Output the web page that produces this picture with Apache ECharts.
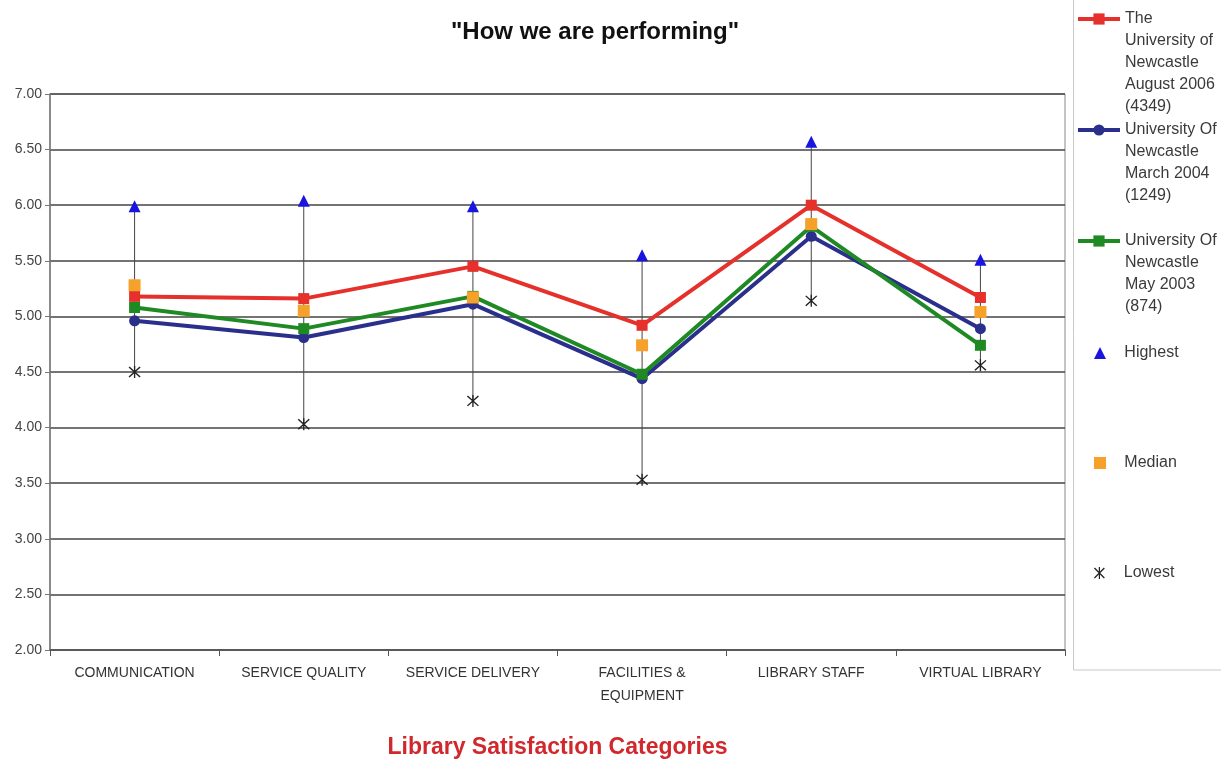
<!DOCTYPE html>
<html>
<head>
<meta charset="utf-8">
<script src="https://cdn.jsdelivr.net/npm/echarts@6/dist/echarts.min.js"></script>
<style>
  html, body { margin: 0; padding: 0; background: #fff; }
  #main { width: 1221px; height: 763px; }
</style>
</head>
<body>
<div id="main"></div>
<script>
// categories and values
var categories = ['COMMUNICATION', 'SERVICE QUALITY', 'SERVICE DELIVERY', 'FACILITIES &\nEQUIPMENT', 'LIBRARY STAFF', 'VIRTUAL LIBRARY'];
var aug2006 = [5.18, 5.16, 5.45, 4.92, 6.00, 5.17];
var mar2004 = [4.96, 4.81, 5.11, 4.44, 5.72, 4.89];
var may2003 = [5.08, 4.89, 5.18, 4.48, 5.81, 4.74];
var highest = [5.99, 6.04, 5.99, 5.55, 6.57, 5.51];
var median = [5.28, 5.05, 5.17, 4.74, 5.83, 5.04];
var lowest = [4.50, 4.03, 4.24, 3.53, 5.14, 4.56];

var names = {
  red: 'The\nUniversity of\nNewcastle\nAugust 2006\n(4349)',
  blue: 'University Of\nNewcastle\nMarch 2004\n(1249)',
  green: 'University Of\nNewcastle\nMay 2003\n(874)'
};

var font = '"Liberation Sans", Arial, sans-serif';
var starPath = 'path://M9,0 L11,0 L11,20 L9,20 Z M1,2.5 L2.5,1 L19,17.5 L17.5,19 Z M17.5,1 L19,2.5 L2.5,19 L1,17.5 Z';

var chart = echarts.init(document.getElementById('main'));

// one legend per item so each icon lines up with the first text line
var LH = 22;
function legendFor(name, iconY, isLine) {
  var n = name.split('\n').length;
  return {
    data: [name],
    left: isLine ? 1076 : 1094,
    top: iconY - (n - 0.5) * LH,
    padding: 0,
    itemWidth: isLine ? 42 : 12,
    itemHeight: isLine ? 14 : 12,
    itemGap: 0,
    lineStyle: { width: 4 },
    formatter: function (nm) {
      // blank lines in front push the first real line onto the icon
      return (isLine ? '' : '   ') + new Array(n).join('\n') + nm;
    },
    textStyle: {
      fontFamily: font,
      fontSize: 16,
      color: '#3a3a3a',
      lineHeight: LH
    }
  };
}

var option = {
  backgroundColor: '#fff',
  animation: false,
  title: {
    text: '"How we are performing"',
    left: 590,
    textAlign: 'center',
    top: 15,
    textStyle: { fontFamily: font, fontSize: 24, fontWeight: 'bold', color: '#111' }
  },
  graphic: [{
    type: 'rect',
    shape: { x: 1073.5, y: -2, width: 160, height: 672 },
    style: { fill: 'none', stroke: '#c8c8c8', lineWidth: 1 },
    silent: true
  }],
  legend: [
    legendFor(names.red, 19, true),
    legendFor(names.blue, 130, true),
    legendFor(names.green, 241, true),
    legendFor('Highest', 353, false),
    legendFor('Median', 463, false),
    legendFor('Lowest', 573, false)
  ],
  grid: {
    left: 50, right: 156, top: 94, bottom: 113,
    outerBoundsMode: 'none',
    show: true,
    borderColor: '#888',
    borderWidth: 1
  },
  xAxis: {
    type: 'category',
    data: categories,
    boundaryGap: true,
    name: 'Library Satisfaction Categories',
    nameLocation: 'middle',
    nameGap: 86,
    nameTextStyle: { fontFamily: font, fontSize: 23, fontWeight: 'bold', color: '#d0282c' },
    axisLine: { lineStyle: { color: '#555', width: 1.5 } },
    axisTick: { show: true, length: 6, lineStyle: { color: '#555' } },
    axisLabel: {
      fontFamily: font, fontSize: 14, color: '#333', margin: 12, lineHeight: 23,
      interval: 0
    }
  },
  yAxis: {
    type: 'value',
    min: 2,
    max: 7,
    interval: 0.5,
    axisLine: { show: true, lineStyle: { color: '#777', width: 1.5 } },
    axisTick: { show: true, length: 5, lineStyle: { color: '#777' } },
    axisLabel: {
      fontFamily: font, fontSize: 14, color: '#444', margin: 8,
      formatter: function (v) { return v.toFixed(2); }
    },
    splitLine: { lineStyle: { color: '#444', width: 1.5 } }
  },
  series: [
    {
      name: 'hilo',
      type: 'custom',
      silent: true,
      z: 1,
      data: categories.map(function (c, i) { return [i, lowest[i], highest[i]]; }),
      renderItem: function (params, api) {
        var p1 = api.coord([api.value(0), api.value(1)]);
        var p2 = api.coord([api.value(0), api.value(2)]);
        return {
          type: 'line',
          shape: { x1: p1[0], y1: p1[1], x2: p2[0], y2: p2[1] },
          style: { stroke: '#444', lineWidth: 1 }
        };
      }
    },
    {
      name: names.blue,
      type: 'line',
      data: mar2004,
      z: 3,
      color: '#2b2f8c',
      symbol: 'circle',
      symbolSize: 11,
      lineStyle: { width: 4 }
    },
    {
      name: names.green,
      type: 'line',
      data: may2003,
      z: 4,
      color: '#1f8a24',
      symbol: 'rect',
      symbolSize: 11,
      lineStyle: { width: 4 }
    },
    {
      name: names.red,
      type: 'line',
      data: aug2006,
      z: 5,
      color: '#e5302b',
      symbol: 'rect',
      symbolSize: 11,
      lineStyle: { width: 4 }
    },
    {
      name: 'Highest',
      type: 'scatter',
      data: highest,
      z: 6,
      color: '#1a14e0',
      itemStyle: { opacity: 1 },
      symbol: 'triangle',
      symbolSize: 12
    },
    {
      name: 'Median',
      type: 'scatter',
      data: median,
      z: 6,
      color: '#f5a12a',
      itemStyle: { opacity: 1 },
      symbol: 'rect',
      symbolSize: 12
    },
    {
      name: 'Lowest',
      type: 'scatter',
      data: lowest,
      z: 6,
      color: '#222',
      itemStyle: { opacity: 1 },
      symbol: starPath,
      symbolSize: 12
    }
  ]
};
chart.setOption(option);
</script>
</body>
</html>
